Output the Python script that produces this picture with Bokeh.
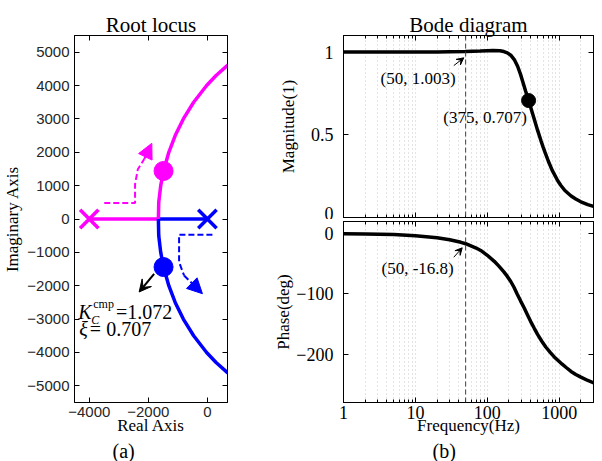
from bokeh.plotting import figure
from bokeh.layouts import row, column
from bokeh.models import (LinearAxis, LogAxis, FixedTicker, Range1d, Span, Arrow,
                          VeeHead, NormalHead, Label, Title, CustomJSTickFormatter)
from bokeh.embed import file_html
from bokeh.resources import INLINE

SERIF = "Liberation Serif"
SANS = "Liberation Sans"
MAGENTA = "#ff00ff"
BLUE = "#0000ff"

# ---------------- Root locus data ----------------
pole_re = [-4000, 0]
pole_im = [0, 0]
pole_colors = [MAGENTA, BLUE]

breakaway_re = -1660
branch_im = [0, 500, 1000, 1440, 2000, 2500, 3000, 3500, 4000, 4300, 4606, 4691]
branch_re = [-1660, -1648, -1581, -1485, -1307, -1091, -815, -466, -27, 293, 679, 800]

design_re = [-1485, -1485]
design_im = [1440, -1440]
design_colors = [MAGENTA, BLUE]

Kc_cmp = "1.072"
xi_val = "0.707"

mag_arrow_re = [-3493, -2450, -2450, -2355, -2142]
mag_arrow_im = [478, 478, 1045, 1493, 1791]
mag_arrow_tip = (-1882, 2269)
blue_arrow_re = [169, -959, -959, -791]
blue_arrow_im = [-469, -469, -1293, -1692]
blue_arrow_tip = (-169, -2239)
black_arrow = (-1804, -1642, -2311, -2188)

# ---------------- Bode data ----------------
freq_mag = [1, 5, 10, 20, 30, 50, 80, 100, 120, 150, 170, 190, 212, 240, 264, 290, 310, 340,
            375, 400, 428, 460, 500, 560, 600, 630, 707, 800, 955, 1050, 1200, 1465, 1700,
            2000, 2500, 3000, 3300]
mag = [1.000, 1.000, 1.000, 1.001, 1.002, 1.003, 1.006, 1.008, 1.009, 1.008, 1.003, 0.995,
       0.981, 0.951, 0.914, 0.865, 0.824, 0.766, 0.707, 0.668, 0.625, 0.580, 0.528, 0.462,
       0.424, 0.398, 0.340, 0.285, 0.222, 0.195, 0.163, 0.130, 0.112, 0.095, 0.078, 0.067,
       0.062]

freq_ph = [1, 2, 5, 10, 20, 30, 43, 50, 70, 81, 100, 125, 145, 170, 190, 211, 235, 260, 290,
           325, 360, 400, 450, 500, 570, 650, 750, 853, 1000, 1100, 1250, 1460, 1700, 2000,
           2500, 3090, 3300]
phase = [-0.3, -0.7, -1.7, -3.5, -7.0, -10.3, -14.5, -16.8, -24, -28, -36, -46, -54, -63.5,
         -71, -79, -89, -100, -111.5, -123, -134, -145.5, -157, -167, -178, -188, -197,
         -204.5, -212, -216.5, -222, -228.5, -233.5, -238, -243.5, -248, -249.5]

f_mark = 50
cut_f, cut_m = 375, 0.707

bode_major = [1, 10, 100, 1000]
bode_minor = [m * d for d in (1, 10, 100, 1000) for m in range(2, 10) if m * d <= 3000]


def blank_axis(p, side, ticker, log=False, minor=True):
    cls = LogAxis if log else LinearAxis
    ax = cls(ticker=ticker, formatter=CustomJSTickFormatter(code="return ''"),
             major_label_text_font_size="0px", major_label_standoff=0,
             major_tick_in=5, major_tick_out=0, minor_tick_in=3, minor_tick_out=0,
             axis_line_color="black", major_tick_line_color="black",
             minor_tick_line_color="black" if minor else None)
    p.add_layout(ax, side)


def style_axis(ax, font, size, color, minor=True):
    ax.major_tick_in = 5
    ax.major_tick_out = 0
    ax.minor_tick_in = 3
    ax.minor_tick_out = 0
    ax.minor_tick_line_color = "black" if minor else None
    ax.major_tick_line_color = "black"
    ax.axis_line_color = "black"
    ax.major_label_text_font = font
    ax.major_label_text_font_size = size
    ax.major_label_text_color = color
    ax.axis_label_text_font = SERIF
    ax.axis_label_text_font_size = "17px"
    ax.axis_label_text_font_style = "normal"
    ax.axis_label_text_color = "black"


def style_title(p, text):
    p.title.text = text
    p.title.align = "center"
    p.title.text_font = SERIF
    p.title.text_font_size = "21px"
    p.title.text_font_style = "normal"
    p.title.text_color = "black"
    p.title.standoff = -3


def sub_caption(p, text, offset):
    p.add_layout(Title(text=text, align="left", offset=offset, text_font=SERIF,
                       text_font_size="20px", text_font_style="normal",
                       text_color="black", standoff=0), "below")


def dotted_xgrid(p):
    g = p.xgrid[0]
    g.grid_line_color = "#c8c8c8"
    g.grid_line_dash = "1 3"
    g.minor_grid_line_color = "#c8c8c8"
    g.minor_grid_line_dash = "1 3"
    p.ygrid.grid_line_color = None


# ================= Root locus =================
p1 = figure(width=250, height=461, x_range=Range1d(-4500, 680), y_range=Range1d(-5500, 5500),
            output_backend="svg", toolbar_location=None,
            min_border_left=73, min_border_right=23, min_border_top=35, min_border_bottom=58)
p1.grid.visible = False
p1.outline_line_color = "black"
style_title(p1, "Root locus")

xt1 = FixedTicker(ticks=[-4000, -2000, 0])
yt1 = FixedTicker(ticks=list(range(-5000, 5001, 1000)))
p1.xaxis.ticker = xt1
p1.yaxis.ticker = yt1
style_axis(p1.xaxis[0], SANS, "15px", "#262626", minor=False)
style_axis(p1.yaxis[0], SANS, "15px", "#262626", minor=False)
p1.xaxis.axis_label = "Real Axis"
p1.yaxis.axis_label = "Imaginary Axis"
p1.xaxis.major_label_standoff = 4
p1.xaxis.axis_label_standoff = -4
p1.yaxis.major_label_standoff = 5
p1.yaxis.axis_label_standoff = 2
blank_axis(p1, "above", xt1, minor=False)
blank_axis(p1, "right", yt1, minor=False)
sub_caption(p1, "(a)", 38)

# real-axis segments
p1.line([pole_re[0], breakaway_re], [0, 0], line_color=MAGENTA, line_width=3.5)
p1.line([pole_re[1], breakaway_re], [0, 0], line_color=BLUE, line_width=3.5)
# complex branches
p1.line(branch_re, branch_im, line_color=MAGENTA, line_width=3.5)
p1.line(branch_re, [-v for v in branch_im], line_color=BLUE, line_width=3.5)
# poles
p1.scatter(pole_re, pole_im, marker="x", size=26, line_width=3.5, line_color=pole_colors)
# design points
p1.scatter(design_re, design_im, marker="circle", size=19, fill_color=design_colors,
           line_color=design_colors)

# dashed direction arrows
p1.line(mag_arrow_re, mag_arrow_im, line_color=MAGENTA, line_width=2, line_dash="6 3")
p1.add_layout(Arrow(x_start=mag_arrow_re[-1], y_start=mag_arrow_im[-1],
                    x_end=mag_arrow_tip[0], y_end=mag_arrow_tip[1],
                    line_color=MAGENTA, line_width=2, line_dash="6 3",
                    end=NormalHead(size=15, fill_color=MAGENTA, line_color=MAGENTA,
                                   line_width=1)))
p1.line(blue_arrow_re, blue_arrow_im, line_color=BLUE, line_width=2, line_dash="6 3")
p1.add_layout(Arrow(x_start=blue_arrow_re[-1], y_start=blue_arrow_im[-1],
                    x_end=blue_arrow_tip[0], y_end=blue_arrow_tip[1],
                    line_color=BLUE, line_width=2, line_dash="6 3",
                    end=NormalHead(size=15, fill_color=BLUE, line_color=BLUE, line_width=1)))
p1.add_layout(Arrow(x_start=black_arrow[0], y_start=black_arrow[1],
                    x_end=black_arrow[2], y_end=black_arrow[3],
                    line_color="black", line_width=2,
                    end=VeeHead(size=12, fill_color="black", line_color="black", line_width=1)))

# annotation text
lab_kw = dict(text_font=SERIF, text_baseline="alphabetic", text_color="black")
p1.add_layout(Label(x=-4372, y=-2785, text="K", text_font_style="italic",
                    text_font_size="20px", **lab_kw))
p1.add_layout(Label(x=-3930, y=-3036, text="C", text_font_style="italic",
                    text_font_size="12px", **lab_kw))
p1.add_layout(Label(x=-3865, y=-2537, text="cmp", text_font_size="12px", **lab_kw))
p1.add_layout(Label(x=-3098, y=-2785, text="=" + Kc_cmp, text_font_size="20px", **lab_kw))
p1.add_layout(Label(x=-4338, y=-3288, text="ξ", text_font_style="italic",
                    text_font_size="20px", **lab_kw))
p1.add_layout(Label(x=-3980, y=-3288, text="= " + xi_val, text_font_size="20px", **lab_kw))

# ================= Bode magnitude =================
xt_b = FixedTicker(ticks=bode_major, minor_ticks=bode_minor)

p2 = figure(width=352, height=219, x_axis_type="log", x_range=Range1d(1, 3000),
            y_range=Range1d(0, 1.1), output_backend="svg", toolbar_location=None,
            min_border_left=93, min_border_right=9, min_border_top=35, min_border_bottom=2)
p2.outline_line_color = "black"
style_title(p2, "Bode diagram")

p2.xaxis.ticker = xt_b
p2.xaxis.formatter = CustomJSTickFormatter(code="return ''")
style_axis(p2.xaxis[0], SERIF, "0px", "black")
p2.xaxis.major_label_standoff = 0
p2.yaxis.ticker = FixedTicker(ticks=[0, 0.5, 1])
p2.yaxis.major_label_overrides = {0: "0", 0.5: "0.5", 1: "1"}
style_axis(p2.yaxis[0], SERIF, "18px", "black", minor=False)
p2.yaxis.axis_label = "Magnitude(1)"
p2.yaxis.major_label_standoff = 10
p2.yaxis.axis_label_standoff = 10
blank_axis(p2, "above", xt_b, log=True)
blank_axis(p2, "right", FixedTicker(ticks=[0, 0.5, 1]), minor=False)
dotted_xgrid(p2)

p2.add_layout(Span(location=f_mark, dimension="height", line_color="#404040",
                   line_width=1, line_dash="5 3"))
p2.line(freq_mag, mag, line_color="black", line_width=3.5)
p2.scatter([cut_f], [cut_m], marker="circle", size=14, fill_color="black", line_color="black")
p2.add_layout(Arrow(x_start=34.2, y_start=0.918, x_end=47.1, y_end=0.965,
                    line_color="black", line_width=1,
                    end=VeeHead(size=7, fill_color="black", line_color="black", line_width=1)))
p2.add_layout(Label(x=3.27, y=0.84, text="(50, 1.003)", text_font=SERIF, text_color="black",
                    text_font_size="17px", text_baseline="middle"))
p2.add_layout(Label(x=24.4, y=0.602, text="(375, 0.707)", text_font=SERIF, text_color="black",
                    text_font_size="17px", text_baseline="middle"))

# ================= Bode phase =================
p3 = figure(width=352, height=242, x_axis_type="log", x_range=Range1d(1, 3000),
            y_range=Range1d(-280, 20), output_backend="svg", toolbar_location=None,
            min_border_left=93, min_border_right=9, min_border_top=2, min_border_bottom=59)
p3.outline_line_color = "black"
p3.xaxis.ticker = xt_b
p3.xaxis.major_label_overrides = {1: "1", 10: "10", 100: "100", 1000: "1000"}
style_axis(p3.xaxis[0], SERIF, "18px", "black")
p3.xaxis.axis_label = "Frequency(Hz)"
p3.xaxis.major_label_standoff = 3
p3.xaxis.axis_label_standoff = -6
p3.yaxis.ticker = FixedTicker(ticks=[0, -100, -200])
style_axis(p3.yaxis[0], SERIF, "18px", "black", minor=False)
p3.yaxis.axis_label = "Phase(deg)"
p3.yaxis.major_label_standoff = 10
p3.yaxis.axis_label_standoff = 0
blank_axis(p3, "above", xt_b, log=True)
blank_axis(p3, "right", FixedTicker(ticks=[0, -100, -200]), minor=False)
dotted_xgrid(p3)
sub_caption(p3, "(b)", 89)

p3.add_layout(Span(location=f_mark, dimension="height", line_color="#404040",
                   line_width=1, line_dash="5 3"))
p3.line(freq_ph, phase, line_color="black", line_width=3.5)
p3.add_layout(Arrow(x_start=34.2, y_start=-39.2, x_end=44.8, y_end=-23.6,
                    line_color="black", line_width=1,
                    end=VeeHead(size=7, fill_color="black", line_color="black", line_width=1)))
p3.add_layout(Label(x=3.38, y=-58.4, text="(50, -16.8)", text_font=SERIF, text_color="black",
                    text_font_size="17px", text_baseline="middle"))

layout = row(p1, column(p2, p3))
open("out.html", "w").write(file_html(layout, INLINE))
